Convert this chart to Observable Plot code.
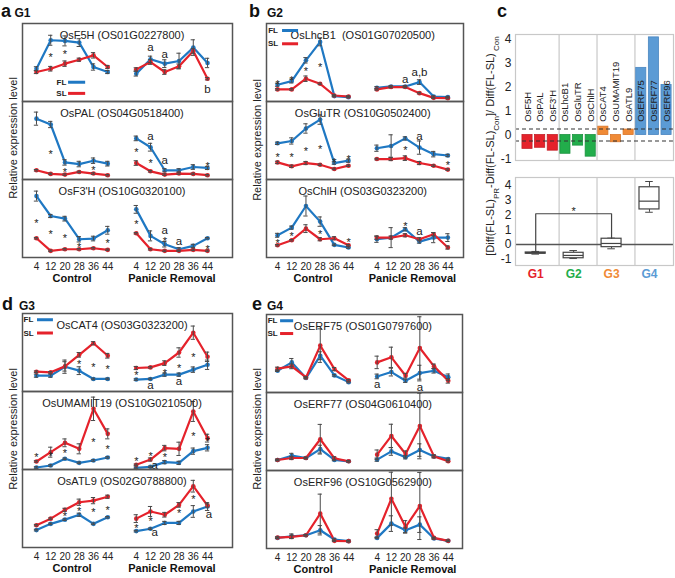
<!DOCTYPE html>
<html><head><meta charset="utf-8">
<script src="https://cdn.jsdelivr.net/npm/d3@7"></script>
<script src="https://cdn.jsdelivr.net/npm/@observablehq/plot@0.6"></script>
<style>
body{margin:0;background:#fff;}
#root{position:relative;width:675px;height:578px;overflow:hidden;background:#fff;font-family:Arial,"Liberation Sans",sans-serif;}
</style></head><body><div id="root"></div>
<script>
// ---------- data ----------
const days = [4, 12, 20, 28, 36, 44];
const condLabels = ["Control", "Panicle Removal"];
const seriesNames = ["FL", "SL"];

// values: 6 control time points then 6 panicle-removal time points (relative, 0..1 of panel)
const F5H_FL = [0.42,0.785,0.777,0.755,0.442,0.378, 0.356,0.541,0.485,0.519,0.691,0.494];
const F5H_SL = [0.378,0.42,0.485,0.536,0.592,0.442, 0.412,0.506,0.378,0.451,0.648,0.292];
const F5H_FLe = [0.026,0.064,0.064,0.05,0.04,0.02, 0.03,0.04,0.05,0.1,0.1,0.06];
const F5H_SLe = [0.02,0.03,0.035,0.02,0.035,0.02, 0.02,0.03,0.03,0.03,0.03,0.015];
const F5H_stars = [[1,0.605],[2,0.644]];
const F5H_letters = [[7,0.69,"a"],[8,0.60,"a"],[11,0.155,"b"]];

const PAL_FL = [0.78,0.705,0.219,0.198,0.241,0.203, 0.527,0.414,0.118,0.118,0.16,0.148];
const PAL_SL = [0.118,0.072,0.063,0.097,0.076,0.055, 0.211,0.105,0.063,0.076,0.072,0.055];
const PAL_FLe = [0.084,0.04,0.035,0.035,0.035,0.03, 0.03,0.05,0.02,0.02,0.03,0.02];
const PAL_SLe = [0.01,0.01,0.01,0.01,0.01,0.01, 0.03,0.01,0.01,0.01,0.01,0.01];
const PAL_stars = [[1,0.359],[2,0.127],[4,0.148],[6,0.38],[7,0.24],[11,0.2]];
const PAL_letters = [[7,0.55,"a"],[8,0.25,"a"]];

const F3H_FL = [0.787,0.532,0.498,0.234,0.243,0.349, 0.617,0.277,0.17,0.106,0.149,0.247];
const F3H_SL = [0.247,0.085,0.106,0.106,0.119,0.098, 0.311,0.106,0.085,0.085,0.098,0.085];
const F3H_FLe = [0.064,0.02,0.03,0.035,0.03,0.05, 0.05,0.064,0.035,0.02,0.02,0.01];
const F3H_SLe = [0.01,0.01,0.01,0.01,0.01,0.01, 0.01,0.01,0.01,0.01,0.01,0.01];
const F3H_stars = [[0,0.477],[1,0.34],[2,0.277],[3,0.162],[5,0.221],[6,0.46],[8,0.247],[11,0.136]];
const F3H_letters = [[8,0.35,"a"],[9,0.204,"a"]];

const LhcB1_FL = [0.215,0.262,0.528,0.764,0.069,0.056, 0.176,0.193,0.193,0.249,0.064,0.056];
const LhcB1_SL = [0.155,0.155,0.292,0.227,0.077,0.064, 0.155,0.185,0.185,0.107,0.047,0.043];
const LhcB1_FLe = [0.02,0.025,0.035,0.05,0.01,0.01, 0.015,0.01,0.01,0.03,0.01,0.01];
const LhcB1_SLe = [0.01,0.01,0.035,0.01,0.01,0.01, 0.01,0.01,0.01,0.01,0.01,0.01];
const LhcB1_stars = [[0,0.258],[1,0.313],[2,0.42],[3,0.47]];
const LhcB1_letters = [[8,0.283,"a"],[9,0.369,"a,b"]];

const GluTR_FL = [0.464,0.494,0.654,0.768,0.211,0.241, 0.401,0.43,0.527,0.409,0.325,0.308];
const GluTR_SL = [0.219,0.169,0.211,0.19,0.135,0.177, 0.262,0.262,0.274,0.211,0.177,0.127];
const GluTR_FLe = [0.015,0.04,0.06,0.06,0.015,0.02, 0.04,0.143,0.02,0.085,0.035,0.015];
const GluTR_SLe = [0.015,0.015,0.02,0.01,0.01,0.01, 0.01,0.02,0.03,0.02,0.01,0.01];
const GluTR_stars = [[0,0.325],[1,0.316],[2,0.392],[3,0.422],[4,0.253],[5,0.295],[8,0.409],[11,0.219]];
const GluTR_letters = [[9,0.557,"a"]];

const ChlH_FL = [0.285,0.383,0.66,0.46,0.162,0.128, 0.234,0.255,0.362,0.204,0.255,0.255];
const ChlH_SL = [0.157,0.221,0.37,0.234,0.247,0.157, 0.255,0.255,0.285,0.234,0.298,0.128];
const ChlH_FLe = [0.025,0.02,0.128,0.06,0.01,0.01, 0.04,0.128,0.02,0.02,0.065,0.05];
const ChlH_SLe = [0.01,0.01,0.05,0.02,0.02,0.01, 0.02,0.02,0.02,0.02,0.02,0.02];
const ChlH_stars = [[0,0.22],[1,0.306],[3,0.34],[5,0.234],[8,0.434]];
const ChlH_letters = [[9,0.332,"a"]];

const CAT4_FL = [0.203,0.203,0.318,0.267,0.161,0.161, 0.153,0.161,0.216,0.216,0.28,0.343];
const CAT4_SL = [0.254,0.246,0.322,0.47,0.619,0.458, 0.301,0.309,0.364,0.5,0.754,0.445];
const CAT4_FLe = [0.02,0.02,0.085,0.05,0.01,0.01, 0.01,0.01,0.02,0.02,0.035,0.06];
const CAT4_SLe = [0.01,0.01,0.06,0.03,0.02,0.03, 0.02,0.01,0.03,0.06,0.085,0.06];
const CAT4_stars = [[3,0.39],[4,0.352],[5,0.322],[6,0.246],[8,0.275],[9,0.33],[10,0.47]];
const CAT4_letters = [[7,0.076,"a"],[9,0.127,"a"]];

const UMAMIT19_FL = [0.026,0.051,0.137,0.085,0.115,0.154, 0.021,0.034,0.094,0.085,0.235,0.278];
const UMAMIT19_SL = [0.103,0.222,0.342,0.265,0.778,0.457, 0.06,0.128,0.274,0.265,0.744,0.402];
const UMAMIT19_FLe = [0.01,0.01,0.01,0.01,0.01,0.01, 0.01,0.01,0.02,0.02,0.04,0.04];
const UMAMIT19_SLe = [0.01,0.064,0.05,0.064,0.15,0.064, 0.01,0.02,0.035,0.085,0.128,0.05];
const UMAMIT19_stars = [[0,0.188],[1,0.21],[2,0.244],[4,0.385],[5,0.295],[6,0.145],[7,0.209],[8,0.188],[10,0.457],[11,0.393]];
const UMAMIT19_letters = [[7.3,0.051,"a"]];

const ATL9_FL = [0.223,0.303,0.357,0.42,0.303,0.387, 0.21,0.24,0.315,0.315,0.462,0.525];
const ATL9_SL = [0.286,0.37,0.483,0.58,0.601,0.651, 0.37,0.462,0.42,0.546,0.786,0.538];
const ATL9_FLe = [0.01,0.01,0.01,0.02,0.01,0.01, 0.01,0.01,0.02,0.02,0.075,0.05];
const ATL9_SLe = [0.01,0.01,0.02,0.04,0.04,0.02, 0.05,0.064,0.03,0.03,0.075,0.02];
const ATL9_stars = [[2,0.441],[3,0.504],[4,0.492],[5,0.513],[6,0.286],[7,0.378],[9,0.47],[10,0.65]];
const ATL9_letters = [[7.3,0.189,"a"],[11.1,0.42,"a"]];

const ERF75_FL = [0.279,0.386,0.185,0.472,0.219,0.133, 0.206,0.262,0.15,0.249,0.279,0.197];
const ERF75_SL = [0.305,0.335,0.193,0.601,0.3,0.155, 0.386,0.451,0.215,0.571,0.335,0.15];
const ERF75_FLe = [0.01,0.05,0.01,0.05,0.01,0.01, 0.03,0.05,0.02,0.1,0.03,0.04];
const ERF75_SLe = [0.02,0.03,0.01,0.215,0.02,0.01, 0.08,0.13,0.03,0.40,0.03,0.03];
const ERF75_stars = [];
const ERF75_letters = [[6,0.099,"a"],[9,0.069,"a"]];

const ERF77_FL = [0.135,0.19,0.16,0.274,0.135,0.118, 0.139,0.245,0.169,0.262,0.181,0.148];
const ERF77_SL = [0.135,0.16,0.16,0.401,0.156,0.118, 0.203,0.443,0.211,0.57,0.181,0.118];
const ERF77_FLe = [0.01,0.03,0.01,0.05,0.01,0.01, 0.02,0.05,0.02,0.08,0.01,0.01];
const ERF77_SLe = [0.01,0.02,0.01,0.19,0.02,0.01, 0.06,0.15,0.04,0.42,0.02,0.01];
const ERF77_stars = [];
const ERF77_letters = [];

const ERF96_FL = [0.136,0.157,0.17,0.234,0.115,0.094, 0.136,0.319,0.234,0.306,0.128,0.098];
const ERF96_SL = [0.14,0.149,0.17,0.447,0.098,0.094, 0.191,0.638,0.277,0.545,0.136,0.098];
const ERF96_FLe = [0.01,0.03,0.01,0.06,0.01,0.01, 0.01,0.1,0.03,0.1,0.01,0.01];
const ERF96_SLe = [0.01,0.02,0.01,0.25,0.01,0.01, 0.05,0.34,0.08,0.43,0.01,0.01];
const ERF96_stars = [];
const ERF96_letters = [];

// panel c
const cGenes = ["OsF5H","OsPAL","OsF3'H","OsLhcB1","OsGluTR","OsChlH","OsCAT4","OsUMAMIT19","OsATL9","OsERF75","OsERF77","OsERF96"];
const cValues = [-0.575,-0.53,-0.65,-0.78,-0.44,-0.9,0.35,-0.3,0.23,2.8,4.07,2.09];
const cGroups = ["G1","G1","G1","G2","G2","G2","G3","G3","G3","G4","G4","G4"];
const groupNames = ["G1","G2","G3","G4"];
const boxMin = [-0.65,-0.95,-0.29,2.18];
const boxQ1  = [-0.62,-0.93,-0.18,2.37];
const boxMed = [-0.58,-0.74,0.07,2.93];
const boxQ3  = [-0.54,-0.56,0.39,3.87];
const boxMax = [-0.47,-0.41,0.43,4.26];
const thresholds = [0.25,-0.25];
const bracketGroups = ["G1","G3"];
const bracketY = 2.08;

// ---------- drawing ----------
const root = document.getElementById("root");
const FONT = "Arial, 'Liberation Sans', sans-serif";
const FL_COLOR = "#1f78c3", SL_COLOR = "#e5222b";
const groupColor = {G1:"#e5222b", G2:"#22ad4b", G3:"#f08a36", G4:"#5b9bd5"};
const groupStroke = {G1:"#c41d25", G2:"#1c9240", G3:"#d9762a", G4:"#4a86c0"};

function place(el, left, top) {
  el.style.position = "absolute";
  el.style.left = left + "px";
  el.style.top = top + "px";
  el.style.overflow = "visible";
  root.appendChild(el);
}
const pos = k => (k < 6 ? k : k + 1);

function gene(label, FL, SL, FLe, SLe, stars, letters) {
  return {label, FL, SL, FLe, SLe, stars, letters};
}

function linePanel(cfg) {
  const labels = cfg.genes.map(g => g.label);
  const rows = [];
  for (const g of cfg.genes) {
    for (let k = 0; k < 12; k++) {
      rows.push({g: g.label, s: "FL", z: "FL" + (k < 6 ? 0 : 1), x: pos(k), y: g.FL[k], e: g.FLe[k]});
      rows.push({g: g.label, s: "SL", z: "SL" + (k < 6 ? 0 : 1), x: pos(k), y: g.SL[k], e: g.SLe[k]});
    }
  }
  const fl = rows.filter(d => d.s === "FL"), sl = rows.filter(d => d.s === "SL");
  const stars = cfg.genes.flatMap(g => g.stars.map(([k, y]) => ({g: g.label, x: pos(k), y})));
  const letters = cfg.genes.flatMap(g => g.letters.map(([k, y, t]) => ({g: g.label, x: pos(k), y, t})));
  const titles = labels.map(l => ({g: l, x: 6, t: l}));
  const groups = condLabels.map((t, i) => ({g: labels[labels.length - 1], x: i === 0 ? 2.5 : 9.5, t}));
  const L = cfg.legend;
  const legText = seriesNames.map((s, i) => ({g: labels[0], x: L.x, y: i === 0 ? L.yFL : L.ySL, t: s}));
  const legLine = seriesNames.map((s, i) => ({g: labels[0], x1: L.x1, x2: L.x2, y: i === 0 ? L.yFL : L.ySL, s}));
  const tickPos = [0,1,2,3,4,5,7,8,9,10,11,12];
  const cap = 0.15;
  const mt = 2, mb = 34, ml = 2, mr = 2;
  const errMarks = (data) => [
    Plot.ruleX(data, {x: "x", y1: d => d.y - d.e, y2: d => d.y + d.e, fy: "g", stroke: "#4a4a4a", strokeWidth: 1}),
    Plot.ruleY(data, {y: d => d.y + d.e, x1: d => d.x - cap, x2: d => d.x + cap, fy: "g", stroke: "#4a4a4a", strokeWidth: 1}),
    Plot.ruleY(data, {y: d => d.y - d.e, x1: d => d.x - cap, x2: d => d.x + cap, fy: "g", stroke: "#4a4a4a", strokeWidth: 1})
  ];
  const svg = Plot.plot({
    width: cfg.right - cfg.left + ml + mr,
    height: cfg.bottom - cfg.top + mt + mb,
    marginTop: mt, marginBottom: mb, marginLeft: ml, marginRight: mr,
    style: {fontFamily: FONT, fontSize: "10px", background: "transparent", overflow: "visible", color: "#222"},
    x: {domain: cfg.xDomain, ticks: tickPos, tickFormat: p => String(days[p < 6 ? p : p - 7]), tickSize: 0, tickPadding: 5, label: null},
    y: {domain: [0, 1], axis: null},
    fy: {domain: labels, axis: null, padding: 0},
    marks: [
      Plot.line(fl, {x: "x", y: "y", z: "z", fy: "g", stroke: FL_COLOR, strokeWidth: 2.2}),
      Plot.line(sl, {x: "x", y: "y", z: "z", fy: "g", stroke: SL_COLOR, strokeWidth: 2.2}),
      Plot.dot(fl, {x: "x", y: "y", fy: "g", r: 2.3, fill: FL_COLOR}),
      Plot.dot(sl, {x: "x", y: "y", fy: "g", r: 2.3, fill: SL_COLOR}),
      ...errMarks(rows),
      Plot.text(stars, {x: "x", y: "y", fy: "g", text: () => "*", fontSize: 11, dy: 3, fill: "#222"}),
      Plot.text(letters, {x: "x", y: "y", fy: "g", text: "t", fontSize: 11.5, fill: "#222"}),
      Plot.text(titles, {x: "x", fy: "g", text: "t", frameAnchor: "top", dy: 8, fontSize: 11, fill: "#222"}),
      Plot.ruleY(legLine, {x1: "x1", x2: "x2", y: "y", fy: "g", stroke: d => d.s === "FL" ? FL_COLOR : SL_COLOR, strokeWidth: 3}),
      Plot.text(legText, {x: "x", y: "y", fy: "g", text: "t", fontSize: 8, fontWeight: "bold", fill: "#222"}),
      Plot.text(groups, {x: "x", fy: "g", text: "t", frameAnchor: "bottom", dy: 24, fontSize: 11, fontWeight: "bold", fill: "#111"}),
      Plot.frame({stroke: "#555", strokeWidth: 1.5})
    ],
    color: {type: "identity"}
  });
  place(svg, cfg.left - ml, cfg.top - mt);
}

linePanel({
  left: 22, right: 232, top: 22, bottom: 257, xDomain: [-0.98, 13.75],
  legend: {x: 1.75, x1: 2.25, x2: 3.45, yFL: 0.247, ySL: 0.104},
  genes: [
    gene("OsF5H (OS01G0227800)", F5H_FL, F5H_SL, F5H_FLe, F5H_SLe, F5H_stars, F5H_letters),
    gene("OsPAL (OS04G0518400)", PAL_FL, PAL_SL, PAL_FLe, PAL_SLe, PAL_stars, PAL_letters),
    gene("OsF3'H (OS10G0320100)", F3H_FL, F3H_SL, F3H_FLe, F3H_SLe, F3H_stars, F3H_letters)
  ]
});
linePanel({
  left: 266, right: 463, top: 22, bottom: 257, xDomain: [-0.78, 13.1],
  legend: {x: -0.32, x1: 0.35, x2: 1.48, yFL: 0.91, ySL: 0.74},
  genes: [
    gene("OsLhcB1  (OS01G07020500)", LhcB1_FL, LhcB1_SL, LhcB1_FLe, LhcB1_SLe, LhcB1_stars, LhcB1_letters),
    gene("OsGluTR (OS10G0502400)", GluTR_FL, GluTR_SL, GluTR_FLe, GluTR_SLe, GluTR_stars, GluTR_letters),
    gene("OsChlH (OS03G0323200)", ChlH_FL, ChlH_SL, ChlH_FLe, ChlH_SLe, ChlH_stars, ChlH_letters)
  ]
});
linePanel({
  left: 22, right: 232, top: 312, bottom: 548, xDomain: [-0.98, 13.75],
  legend: {x: -0.56, x1: 0.07, x2: 1.19, yFL: 0.92, ySL: 0.75},
  genes: [
    gene("OsCAT4 (OS03G0323200)", CAT4_FL, CAT4_SL, CAT4_FLe, CAT4_SLe, CAT4_stars, CAT4_letters),
    gene("OsUMAMIT19 (OS10G0210500)", UMAMIT19_FL, UMAMIT19_SL, UMAMIT19_FLe, UMAMIT19_SLe, UMAMIT19_stars, UMAMIT19_letters),
    gene("OsATL9 (OS02G0788800)", ATL9_FL, ATL9_SL, ATL9_FLe, ATL9_SLe, ATL9_stars, ATL9_letters)
  ]
});
linePanel({
  left: 266, right: 462, top: 313, bottom: 548, xDomain: [-0.78, 13.0],
  legend: {x: -0.35, x1: 0.21, x2: 1.13, yFL: 0.92, ySL: 0.756},
  genes: [
    gene("OsERF75 (OS01G0797600)", ERF75_FL, ERF75_SL, ERF75_FLe, ERF75_SLe, ERF75_stars, ERF75_letters),
    gene("OsERF77 (OS04G0610400)", ERF77_FL, ERF77_SL, ERF77_FLe, ERF77_SLe, ERF77_stars, ERF77_letters),
    gene("OsERF96 (OS10G0562900)", ERF96_FL, ERF96_SL, ERF96_FLe, ERF96_SLe, ERF96_stars, ERF96_letters)
  ]
});

// ----- panel c (top: bars) -----
const cX = [-0.95, 11.55];
const seps = [2.5, 5.5, 8.5];
const barRows = cGenes.map((g, i) => ({g, i, v: cValues[i], y0: 0, ty: 0.55, grp: cGroups[i]}));
{
  const ml = 30, mr = 2, mt = 2, mb = 2;
  const svg = Plot.plot({
    width: 673 - 515 + ml + mr, height: 160 - 34 + mt + mb,
    marginLeft: ml, marginRight: mr, marginTop: mt, marginBottom: mb,
    style: {fontFamily: FONT, fontSize: "12px", background: "transparent", overflow: "visible", color: "#222"},
    x: {domain: cX, axis: null},
    y: {domain: [-1.06, 4.19], ticks: [-1, 0, 1, 2, 3, 4], tickFormat: d => String(d), tickSize: 0, tickPadding: 4, label: null},
    color: {type: "identity"},
    marks: [
      Plot.ruleX(seps, {stroke: "#c8c8c8", strokeWidth: 1.2}),
      Plot.rect(barRows, {x1: d => d.i - 0.4, x2: d => d.i + 0.4, y1: "y0", y2: "v", fill: d => groupColor[d.grp], stroke: d => groupStroke[d.grp], strokeWidth: 0.8}),
      Plot.ruleY(thresholds, {stroke: "#333", strokeDasharray: "4,3", strokeWidth: 1.1}),
      Plot.text(barRows, {x: "i", y: "ty", text: "g", rotate: -90, textAnchor: "start", fontSize: 9.5, fill: "#222"}),
      Plot.frame({stroke: "#c8c8c8", strokeWidth: 1.2})
    ]
  });
  place(svg, 515 - ml, 34 - mt);
}
// ----- panel c (bottom: boxes) -----
{
  const boxRows = groupNames.map((g, j) => ({g, x: j * 3 + 1 - 0.35, min: boxMin[j], q1: boxQ1[j], med: boxMed[j], q3: boxQ3[j], max: boxMax[j], ly: -1.42}));
  const bx = boxRows.filter(d => bracketGroups.includes(d.g));
  const bracket = [
    {x: bx[0].x, y: bx[0].max}, {x: bx[0].x, y: bracketY},
    {x: bx[1].x, y: bracketY}, {x: bx[1].x, y: bx[1].max}
  ];
  const starRow = [{x: (bx[0].x + bx[1].x) / 2, y: bracketY + 0.35}];
  const ml = 30, mr = 2, mt = 2, mb = 22;
  const bw = 0.79, cw = 0.3;
  const svg = Plot.plot({
    width: 673 - 515 + ml + mr, height: 265 - 177 + mt + mb,
    marginLeft: ml, marginRight: mr, marginTop: mt, marginBottom: mb,
    style: {fontFamily: FONT, fontSize: "12px", background: "transparent", overflow: "visible", color: "#222"},
    x: {domain: cX, axis: null},
    y: {domain: [-1.42, 4.53], ticks: [-1, 0, 1, 2, 3, 4], tickFormat: d => String(d), tickSize: 0, tickPadding: 4, label: null},
    color: {type: "identity"},
    marks: [
      Plot.ruleX(seps, {stroke: "#c8c8c8", strokeWidth: 1.2}),
      Plot.ruleY([0], {stroke: "#555", strokeWidth: 1.5}),
      Plot.ruleX(boxRows, {x: "x", y1: "min", y2: "q1", stroke: "#444"}),
      Plot.ruleX(boxRows, {x: "x", y1: "q3", y2: "max", stroke: "#444"}),
      Plot.ruleY(boxRows, {y: "min", x1: d => d.x - cw, x2: d => d.x + cw, stroke: "#444"}),
      Plot.ruleY(boxRows, {y: "max", x1: d => d.x - cw, x2: d => d.x + cw, stroke: "#444"}),
      Plot.rect(boxRows, {x1: d => d.x - bw, x2: d => d.x + bw, y1: "q1", y2: "q3", fill: "white", stroke: "#444", strokeWidth: 1.2}),
      Plot.ruleY(boxRows, {y: "med", x1: d => d.x - bw, x2: d => d.x + bw, stroke: "#444", strokeWidth: 1.2}),
      Plot.line(bracket, {x: "x", y: "y", stroke: "#444", strokeWidth: 1.2}),
      Plot.text(starRow, {x: "x", y: "y", text: () => "*", fontSize: 11, dy: 3, fill: "#222"}),
      Plot.text(boxRows, {x: "x", y: "ly", text: "g", dy: 9, fontSize: 12, fontWeight: "bold", fill: d => groupColor[d.g]}),
      Plot.frame({stroke: "#c8c8c8", strokeWidth: 1.2})
    ]
  });
  place(svg, 515 - ml, 177 - mt);
}

// ----- annotation text overlay -----
const NS = "http://www.w3.org/2000/svg";
const ov = document.createElementNS(NS, "svg");
ov.setAttribute("width", 675); ov.setAttribute("height", 578);
ov.style.pointerEvents = "none";
ov.style.fontFamily = FONT;
function txt(str, x, y, o = {}) {
  const t = document.createElementNS(NS, "text");
  t.setAttribute("x", x); t.setAttribute("y", y);
  t.setAttribute("font-size", o.size || 11);
  if (o.bold) t.setAttribute("font-weight", "bold");
  t.setAttribute("fill", o.fill || "#111");
  if (o.anchor) t.setAttribute("text-anchor", o.anchor);
  if (o.rotate) t.setAttribute("transform", `rotate(${o.rotate},${x},${y})`);
  t.textContent = str;
  ov.appendChild(t);
  return t;
}
// panel letters and group names
txt("a", 1, 17, {size: 18, bold: true});
txt("G1", 14.5, 17, {size: 12, bold: true});
txt("b", 249, 17, {size: 18, bold: true});
txt("G2", 267, 17, {size: 12, bold: true});
txt("c", 497, 17, {size: 18, bold: true});
txt("d", 2, 310, {size: 18, bold: true});
txt("G3", 19, 310, {size: 12, bold: true});
txt("e", 252, 310, {size: 18, bold: true});
txt("G4", 267, 310, {size: 12, bold: true});
// y-axis labels
const ylab = "Relative expression level";
txt(ylab, 17, 138, {rotate: -90, anchor: "middle", size: 11, fill: "#222"});
txt(ylab, 261, 140, {rotate: -90, anchor: "middle", size: 11, fill: "#222"});
txt(ylab, 16.5, 429, {rotate: -90, anchor: "middle", size: 11, fill: "#222"});
txt(ylab, 261, 429, {rotate: -90, anchor: "middle", size: 11, fill: "#222"});
// panel c y label with subscripts
{
  const t = document.createElementNS(NS, "text");
  const x = 494, y = 146;
  t.setAttribute("x", x); t.setAttribute("y", y);
  t.setAttribute("font-size", 11); t.setAttribute("fill", "#222");
  t.setAttribute("text-anchor", "middle");
  t.setAttribute("transform", `rotate(-90,${x},${y})`);
  const parts = [["[Diff(FL-SL)", 0], ["PR", 1], ["-Diff(FL-SL)", 0], ["Con", 1], ["]/ Diff(FL-SL)", 0], [" Con", 1]];
  for (const [s, sub] of parts) {
    const sp = document.createElementNS(NS, "tspan");
    sp.textContent = s;
    if (sub) { sp.setAttribute("font-size", 8); sp.setAttribute("baseline-shift", "sub"); }
    t.appendChild(sp);
  }
  ov.appendChild(t);
}
place(ov, 0, 0);
</script></body></html>
